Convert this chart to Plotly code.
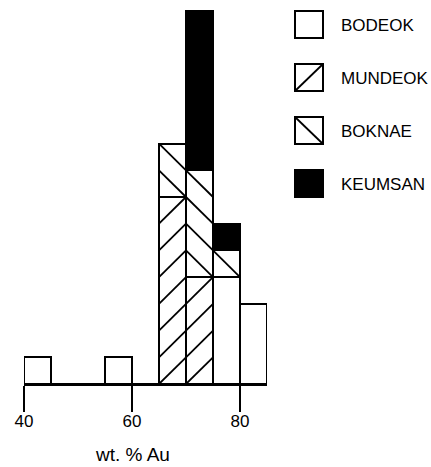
import plotly.graph_objects as go

# ---- data (counts per 5 wt.% Au bin) ----
bin_left = [40, 45, 50, 55, 60, 65, 70, 75, 80]
bin_width = 5
bodeok  = [1, 0, 0, 1, 0, 0, 0, 4, 3]
mundeok = [0, 0, 0, 0, 0, 7, 4, 0, 0]
boknae  = [0, 0, 0, 0, 0, 2, 4, 1, 0]
keumsan = [0, 0, 0, 0, 0, 0, 6, 1, 0]
series_names = ["BODEOK", "MUNDEOK", "BOKNAE", "KEUMSAN"]
tick_vals = [40, 60, 80]
x_title = "wt. % Au"

W, H = 431, 467
ML, MR, MT, MB = 24, 164, 10, 83
PW, PH = W - ML - MR, H - MT - MB
FONT = "Liberation Sans, Arial, sans-serif"
LW = 2

centers = [b + bin_width / 2 for b in bin_left]

fig = go.Figure()
series = [bodeok, mundeok, boknae, keumsan]
fills = ["white", "white", "white", "black"]
for name, vals, fc in zip(series_names, series, fills):
    fig.add_trace(go.Bar(
        x=centers, y=vals, width=bin_width, name=name,
        marker=dict(color=fc, line=dict(color="black", width=LW)),
        showlegend=False, hoverinfo="skip"))

# hatch lines (one diagonal per count cell), derived from the stacked data
def hatch(vals, base, direction):
    xs, ys = [], []
    for i, h in enumerate(vals):
        x0 = bin_left[i]
        b = base[i]
        for k in range(h):
            xs += [x0, x0 + bin_width, None]
            if direction == "/":
                ys += [b + k, b + k + 1, None]
            else:
                ys += [b + k + 1, b + k, None]
    return xs, ys

base_m = bodeok
base_b = [a + b for a, b in zip(bodeok, mundeok)]
for vals, base, d in [(mundeok, base_m, "/"), (boknae, base_b, "\\")]:
    xs, ys = hatch(vals, base, d)
    fig.add_trace(go.Scatter(x=xs, y=ys, mode="lines",
                             line=dict(color="black", width=1.8),
                             showlegend=False, hoverinfo="skip"))

totals = [sum(t) for t in zip(*series)]

# ---- custom legend (pixel layout -> paper coords) ----
def px(xp):
    return (xp - ML) / PW
def py(yp):
    return (H - MB - yp) / PH

shapes = []
annotations = []
box_x0, box_x1 = 295, 323
box_tops = [11, 64, 117, 170]
box_h = 27
for name, fc, top, kind in zip(series_names, fills, box_tops, ["", "/", "\\", ""]):
    shapes.append(dict(type="rect", xref="paper", yref="paper",
                       x0=px(box_x0), x1=px(box_x1), y0=py(top + box_h), y1=py(top),
                       fillcolor=fc, line=dict(color="black", width=LW)))
    if kind == "/":
        shapes.append(dict(type="line", xref="paper", yref="paper",
                           x0=px(box_x0), y0=py(top + box_h), x1=px(box_x1), y1=py(top),
                           line=dict(color="black", width=1.8)))
    elif kind == "\\":
        shapes.append(dict(type="line", xref="paper", yref="paper",
                           x0=px(box_x0), y0=py(top), x1=px(box_x1), y1=py(top + box_h),
                           line=dict(color="black", width=1.8)))
    annotations.append(dict(text=name, xref="paper", yref="paper",
                            x=px(339), y=py(top + box_h / 2 + 1),
                            xanchor="left", yanchor="middle", showarrow=False,
                            font=dict(family=FONT, size=17, color="black")))

annotations.append(dict(text=x_title, xref="x", yref="paper", x=60, y=py(454),
                        xanchor="center", yanchor="middle", showarrow=False,
                        font=dict(family=FONT, size=19, color="black")))

fig.update_layout(
    width=W, height=H, margin=dict(l=ML, r=MR, t=MT, b=MB),
    barmode="stack", bargap=0,
    plot_bgcolor="white", paper_bgcolor="white",
    shapes=shapes, annotations=annotations,
    font=dict(family=FONT, color="black"),
    xaxis=dict(range=[40, 85], tickvals=tick_vals, ticks="outside",
               ticklen=26, tickwidth=LW, tickcolor="black",
               ticklabelstandoff=-5,
               showline=True, linecolor="black", linewidth=LW,
               showgrid=False, zeroline=False, automargin=False,
               tickfont=dict(family=FONT, size=17, color="black")),
    yaxis=dict(range=[0, max(totals)], visible=False, showgrid=False,
               zeroline=False),
)

fig.write_html("out.html", config={"displayModeBar": False},
               post_script="document.body.style.margin='0';document.body.style.overflow='hidden';")
